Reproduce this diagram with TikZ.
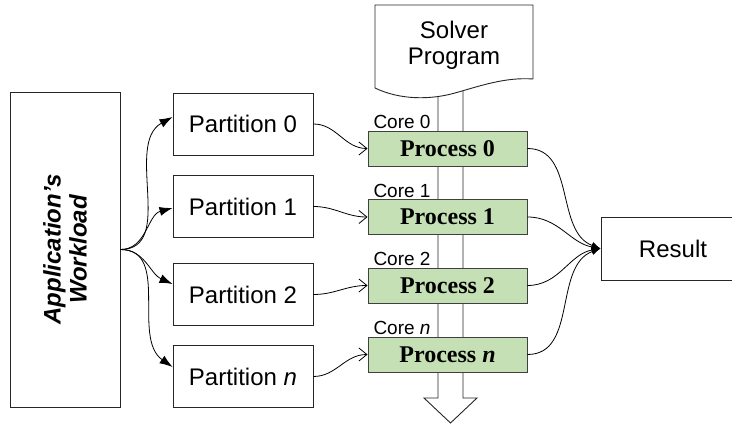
\documentclass[tikz,border=0pt]{standalone}
\usepackage{fontspec}
\setmainfont{Liberation Sans}
\newfontfamily\procfont{Liberation Serif}
\usetikzlibrary{arrows.meta}
\definecolor{procgreen}{RGB}{197,224,180}

\begin{document}
\begin{tikzpicture}[x=1pt, y=1pt, line width=0.9pt,
  part node/.style={rectangle,draw=black!85,minimum width=140pt,minimum height=62pt,inner sep=0pt,font=\fontsize{24}{28}\selectfont},
  proc node/.style={rectangle,draw=black!75,fill=procgreen,minimum width=159pt,minimum height=35pt,inner sep=0pt,font=\procfont\bfseries\fontsize{24}{28}\selectfont},
  core node/.style={anchor=south east,inner sep=1pt,font=\fontsize{19}{22}\selectfont},
  split arrow/.style={-{Latex[length=13pt,width=9pt]}},
  feed arrow/.style={-{Straight Barb[length=8pt,width=13pt]}},
  join arrow/.style={-{Latex[length=9pt,width=7pt]}}]
\clip (0,0) rectangle (732,426);
% flow of the solver program, behind the processes
\draw[draw=black!85,fill=white] (438,336) -- (438,28) -- (424,28) -- (450.5,3) -- (477,28) -- (463,28) -- (463,336);
\draw[draw=black!85,fill=white] (375,421) -- (533,421) -- (533,347) .. controls (505,349) and (480,340) .. (455,333) .. controls (430,326) and (400,326) .. (375,338) -- cycle;
\node[align=center,font=\fontsize{24}{26}\selectfont] (solver) at (454,381) {Solver\\Program};
% rotated, so its south is the right side
\node[draw=black!85,minimum width=315pt,minimum height=110pt,rotate=90,align=center,font=\bfseries\itshape\fontsize{24}{26}\selectfont] (app) at (65,176.5) {Application’s\\Workload};
\begin{scope}
\node[part node] (p0) at (243,302) {Partition 0};
\node[part node] (p1) at (243,219.5) {Partition 1};
\node[part node] (p2) at (243,131.5) {Partition 2};
\node[part node] (pn) at (243,49.5) {Partition \textit{n}};
\node[proc node] (c0) at (447.5,277.5) {Process 0};
\node[proc node] (c1) at (447.5,209) {Process 1};
\node[proc node] (c2) at (447.5,140.5) {Process 2};
\node[proc node] (cn) at (447.5,71.5) {Process \textit{n}};
\node[core node] (k0) at ([xshift=-15.5pt]c0.north) {Core 0};
\node[core node] (k1) at ([xshift=-15.5pt]c1.north) {Core 1};
\node[core node] (k2) at ([xshift=-15.5pt]c2.north) {Core 2};
\node[core node] (kn) at ([xshift=-15.5pt]cn.north) {Core \textit{n}};
\node[part node,minimum width=144pt,minimum height=63pt] (res) at (673,177.5) {Result};
\end{scope}
\begin{scope}[every edge/.style={draw=black,line width=0.8pt}]
\draw (app.south) edge[split arrow,out=0,in=209] ([yshift=7pt]p0.west);
\draw (app.south) edge[split arrow,out=0,in=195] ([yshift=-1.5pt]p1.west);
\draw (app.south) edge[split arrow,out=0,in=156] ([yshift=10.5pt]p2.west);
\draw (app.south) edge[split arrow,out=0,in=145] ([yshift=9.5pt]pn.west);
\draw (p0.east) edge[feed arrow,out=0,in=180] (c0.west);
\draw (p1.east) edge[feed arrow,out=0,in=180] (c1.west);
\draw (p2.east) edge[feed arrow,out=0,in=180] (c2.west);
\draw (pn.east) edge[feed arrow,out=0,in=180] (cn.west);
\draw (c0.east) edge[join arrow,out=0,in=160] (res.west);
\draw (c1.east) edge[join arrow,out=0,in=170] (res.west);
\draw (c2.east) edge[join arrow,out=0,in=190] (res.west);
\draw (cn.east) edge[join arrow,out=0,in=200] (res.west);
\end{scope}
\end{tikzpicture}
\end{document}
